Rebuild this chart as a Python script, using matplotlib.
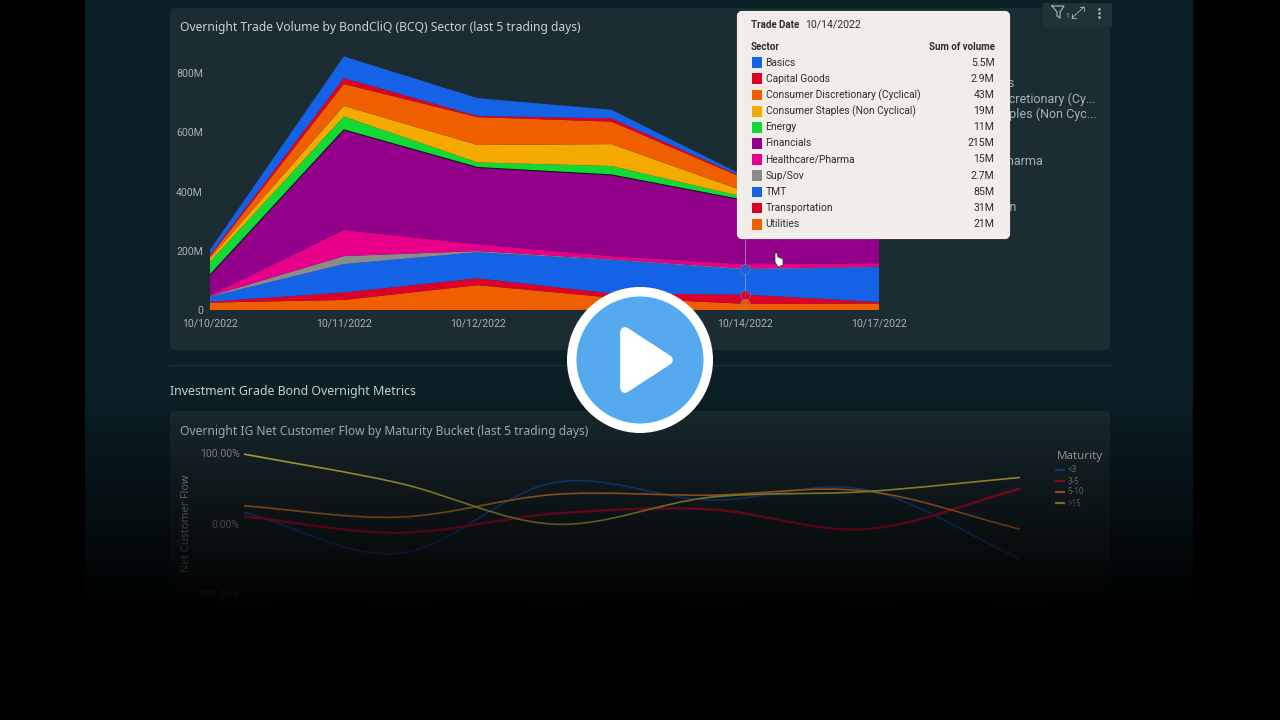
"""
bondcliq dashboard screenshot : stacked volume + net flow lines, tooltip and play button on top
"""
import numpy as np
import matplotlib
matplotlib.use("Agg")
import matplotlib.pyplot as plt
from matplotlib.patches import Rectangle, FancyBboxPatch, Circle, Polygon, PathPatch
from matplotlib.path import Path

W, H = 1280, 720
plt.rcParams["font.family"] = ["Noto Sans", "DejaVu Sans"]

# data
DATES = ["10/10/2022", "10/11/2022", "10/12/2022", "10/13/2022", "10/14/2022", "10/17/2022"]
SECTORS = ["Basics", "Capital Goods", "Consumer Discretionary (Cyclical)", "Consumer Staples (Non Cyclical)",
           "Energy", "Financials", "Healthcare/Pharma", "Sup/Sov", "TMT", "Transportation", "Utilities"]
LEGEND_LABELS = ["Capital Goods", "Consumer Discretionary (Cy...", "Consumer Staples (Non Cyc...",
                 "Healthcare/Pharma", "Transportation"]
LEGEND_Y = [83, 99, 114, 161, 208]
TIP_VALUES = ["5.5M", "2.9M", "43M", "19M", "11M", "215M", "15M", "2.7M", "85M", "31M", "21M"]

# volume per day, in millions
utilities = [25, 34, 84, 42, 21, 22]
transportation = [3, 25, 23, 14, 31, 5]
tmt = [17, 96, 88, 113, 85, 118]
sup_sov = [2, 27, 4, 2, 2.7, 1]
healthcare = [3, 88, 23, 11, 15, 12]
financials = [68, 338, 259, 274, 215, 172]
energy = [45, 45, 17, 30, 11, 10]
staples = [12, 36, 59, 74, 19, 15]
discretionary = [7, 74, 94, 76, 43, 35]
capital_goods = [4, 20, 4, 11, 2.9, 3]
basics = [17, 73, 60, 29, 5.5, 5]

Y_TICKS = [0, 200, 400, 600, 800]
Y_TICK_LABELS = ["0", "200M", "400M", "600M", "800M"]

# net customer flow, percent
MATURITIES = ["<3", "3-5", "5-10", ">15"]
flow_lt3 = [16, -42, 58, 33, 48, -50]
flow_3_5 = [10, -13, 14, 20, -8, 49]
flow_5_10 = [25, 9, 41, 40, 46, -8]
flow_gt15 = [98, 57, -1, 37, 45, 65]
FLOW_TICKS = [-100, 0, 100]
FLOW_TICK_LABELS = ["-100.00%", "0.00%", "100.00%"]

# couleurs
BLUE = "#1463e6"
RED = "#df0029"
ORANGE = "#ef5f00"
YELLOW = "#f4aa00"
GREEN = "#12d936"
PURPLE = "#93008a"
PINK = "#e8008b"
GRAY = "#8b8b8b"
SECTOR_COLORS = [BLUE, RED, ORANGE, YELLOW, GREEN, PURPLE, PINK, GRAY, BLUE, RED, ORANGE]
FLOW_COLORS = ["#2058b8", "#e0103a", "#ff9430", "#f0e050"]
PAGE = "#0b2027"
CARD = "#1b2c32"
TEXT = "#ccd2d4"
TICK = "#aab2b5"


def px_axes(fig, x0, y0, x1, y1, zorder=1):
    ax = fig.add_axes([x0 / W, 1 - y1 / H, (x1 - x0) / W, (y1 - y0) / H], zorder=zorder)
    ax.patch.set_alpha(0)
    return ax


def smooth_path(x, y):
    # courbe lisse qui passe par les points du jeu de donnees
    verts = [(x[0], y[0])]
    codes = [Path.MOVETO]
    n = len(x)
    for i in range(n - 1):
        m0 = (y[i + 1] - y[max(i - 1, 0)]) / (x[i + 1] - x[max(i - 1, 0)])
        m1 = (y[min(i + 2, n - 1)] - y[i]) / (x[min(i + 2, n - 1)] - x[i])
        d = (x[i + 1] - x[i]) / 3
        verts += [(x[i] + d, y[i] + m0 * d), (x[i + 1] - d, y[i + 1] - m1 * d), (x[i + 1], y[i + 1])]
        codes += [Path.CURVE4] * 3
    return Path(verts, codes)


fig = plt.figure(figsize=(W / 100, H / 100), dpi=100, facecolor="black")

# fond de page
bg = fig.add_axes([0, 0, 1, 1], zorder=0)
bg.set_xlim(0, W)
bg.set_ylim(H, 0)
bg.axis("off")
bg.add_patch(Rectangle((85, 0), 1108, H, fc=PAGE, ec="none"))
bg.add_patch(FancyBboxPatch((170, 8), 940, 342, boxstyle="round,pad=0,rounding_size=5", fc=CARD, ec="none"))
bg.add_patch(FancyBboxPatch((170, 411), 940, 240, boxstyle="round,pad=0,rounding_size=5", fc=CARD, ec="none"))
bg.add_patch(Rectangle((1043, 3), 69, 24, fc="#1f3338", ec="none"))
bg.plot([170, 1110], [365, 365], color="#1e3036", lw=1)
bg.text(180, 27, "Overnight Trade Volume by BondCliQ (BCQ) Sector (last 5 trading days)",
        fontsize=8.7, color=TEXT, va="center")
bg.text(170, 391, "Investment Grade Bond Overnight Metrics", fontsize=8.9, color=TEXT, va="center")
bg.text(180, 431, "Overnight IG Net Customer Flow by Maturity Bucket (last 5 trading days)",
        fontsize=8.7, color=TEXT, va="center")

# legende du haut, seule la fin depasse du tooltip
for label, y in zip(LEGEND_LABELS, LEGEND_Y):
    bg.text(1096 if "..." in label else 1043 if "Pharma" in label else 1017 if "Trans" in label else 1014, y, label,
            fontsize=9, color=TICK, va="center", ha="right", family="Roboto")

# aire empilee
ax = px_axes(fig, 210, 44, 879, 310)
x = np.arange(len(DATES))
stack = [utilities, transportation, tmt, sup_sov, healthcare, financials,
         energy, staples, discretionary, capital_goods, basics]
ax.stackplot(x, stack, colors=SECTOR_COLORS[::-1], linewidth=0)
fin_top = np.sum(stack[:6], axis=0)
ax.plot(x, fin_top, color="#1a1020", lw=0.8)
ax.set_xlim(0, 5)
ax.set_ylim(0, 266 / 237 * 800)
ax.set_xticks(x, DATES)
ax.set_yticks(Y_TICKS, Y_TICK_LABELS)
ax.tick_params(length=0, labelsize=7.6, labelcolor=TICK, pad=5)
ax.tick_params(axis="x", pad=6)
for lab in ax.get_xticklabels() + ax.get_yticklabels():
    lab.set_family("Roboto")
for s in ax.spines.values():
    s.set_visible(False)

# ligne et points du survol sur 10/14
ax.axvline(4, color="#9fc0d8", lw=0.6, alpha=0.7)
for sector_top, col in [(sum(v[4] for v in stack[:3]), BLUE), (sum(v[4] for v in stack[:2]), RED),
                        (stack[0][4], ORANGE)]:
    ax.plot([4], [sector_top], "o", ms=7, mfc=col, mec="#7a8a90", mew=0.5, alpha=0.8, clip_on=False)

# courbes du bas
ax2 = px_axes(fig, 244, 452.7, 1020, 594.3)
x2 = np.arange(len(DATES), dtype=float)
for vals, col in zip([flow_lt3, flow_3_5, flow_5_10, flow_gt15], FLOW_COLORS):
    lw = 1.7 if col == FLOW_COLORS[1] else 1.2
    ax2.add_patch(PathPatch(smooth_path(x2, np.array(vals, dtype=float)), fc="none", ec=col, lw=lw, clip_on=False))
ax2.set_xlim(0, 5)
ax2.set_ylim(-100, 100)
ax2.set_xticks(x2, DATES)
ax2.set_yticks(FLOW_TICKS, FLOW_TICK_LABELS)
ax2.tick_params(length=0, labelsize=7.6, labelcolor=TICK, pad=3)
ax2.tick_params(axis="x", pad=6)
for lab in ax2.get_xticklabels() + ax2.get_yticklabels():
    lab.set_family("Roboto")
for s in ax2.spines.values():
    s.set_visible(False)
ax2.set_ylabel("Net Customer Flow", fontsize=7.8, color=TICK, labelpad=4)

# legende du bas
bg2 = px_axes(fig, 0, 0, W, H, zorder=2)
bg2.set_xlim(0, W)
bg2.set_ylim(H, 0)
bg2.axis("off")
bg2.text(1057, 456, "Maturity", fontsize=8.3, color=TEXT, va="center")
for label, col, y in zip(MATURITIES, FLOW_COLORS, [470, 481, 492, 503]):
    bg2.plot([1056, 1064], [y, y], color=col, lw=1.6)
    bg2.text(1068, y, label, fontsize=5.8, color=TICK, va="center")

# degrade vers le noir sur le bas de l'ecran
fade = px_axes(fig, 0, 0, W, H, zorder=3)
ramp = np.clip((np.arange(H) - 385) / 225, 0, 1)
rgba = np.zeros((H, 1, 4))
rgba[:, 0, 3] = ramp
fade.imshow(rgba, aspect="auto", extent=(0, W, H, 0), interpolation="bilinear")
fade.axis("off")

# tooltip, icones, curseur, bouton play
top = px_axes(fig, 0, 0, W, H, zorder=5)
top.set_xlim(0, W)
top.set_ylim(H, 0)
top.axis("off")
top.add_patch(FancyBboxPatch((739, 13), 269, 224, boxstyle="round,pad=0,rounding_size=3",
                             mutation_aspect=1, fc="#f1ede8", ec="#f1ede8", lw=3))
INK = "#2e2e2e"
top.text(751, 25, "Trade Date", fontsize=7, fontweight="bold", color=INK, va="center", family="Roboto")
top.text(805, 24.5, "10/14/2022", fontsize=7.6, color=INK, va="center", family="Roboto")
top.text(751, 47, "Sector", fontsize=7, fontweight="bold", color=INK, va="center", family="Roboto")
top.text(994.5, 47, "Sum of volume", fontsize=7, fontweight="bold", color=INK, va="center", ha="right", family="Roboto")
for name, val, col, y in zip(SECTORS, TIP_VALUES, SECTOR_COLORS, np.linspace(62.5, 224, len(SECTORS))):
    top.add_patch(Rectangle((751.5, y - 5.2), 10.8, 10.8, fc=col, ec="none"))
    top.text(765.5, y, name, fontsize=7.4, color=INK, va="center", family="Roboto")
    top.text(994.5, y, val, fontsize=7.6, color=INK, va="center", ha="right", family="Roboto")

# icones filtre / agrandir / menu
icon = "#aebabd"
top.plot([1052, 1064, 1060, 1060, 1057, 1057, 1052], [6, 6, 12, 18, 16, 12, 6], color=icon, lw=0.8)
top.text(1065, 17, "1", fontsize=4.5, color=icon, va="center")
top.plot([1072, 1084], [18, 7], color=icon, lw=0.6)
top.plot([1072, 1072, 1076], [14, 18, 18], color=icon, lw=0.6)
top.plot([1080, 1084, 1084], [7, 7, 11], color=icon, lw=0.6)
top.plot([1098.5] * 3, [9, 13, 17], "o", ms=0.9, color=icon)

# curseur main
top.add_patch(Polygon([(775, 253), (777, 253), (778, 257), (783, 259), (783, 265), (778, 267), (775, 262)],
                      fc="white", ec="#333333", lw=0.5))

top.add_patch(Circle((640, 360), 73, fc="white", ec="none"))
top.add_patch(Circle((640, 360), 63.5, fc="#55a9ee", ec="none"))
top.add_patch(Polygon([(625, 332), (668, 360), (625, 388)], fc="white", ec="white", lw=7, joinstyle="round"))

fig.savefig("out.png", dpi=100, facecolor="black")
